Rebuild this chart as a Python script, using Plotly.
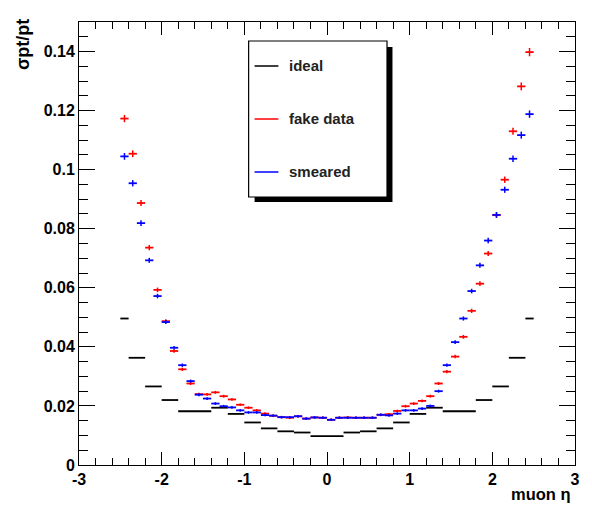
import plotly.graph_objects as go

# pt resolution vs muon pseudorapidity, 50 bins of width 0.1 over |eta| < 2.5
eta_centers = [round(-2.45 + 0.1 * i, 2) for i in range(50)]
bin_half_width = 0.05

fake_data = [
    0.1173, 0.1054, 0.0887, 0.0736, 0.0593, 0.0487, 0.0386, 0.0324, 0.0276, 0.0240,
    0.0239, 0.0246, 0.0233, 0.0222, 0.0204, 0.0194, 0.0185, 0.0174, 0.0167, 0.0162,
    0.0160, 0.0165, 0.0157, 0.0161, 0.0160, 0.0153, 0.0160, 0.0161, 0.0160, 0.0160,
    0.0160, 0.0170, 0.0172, 0.0183, 0.0199, 0.0208, 0.0217, 0.0233, 0.0276, 0.0316,
    0.0367, 0.0434, 0.0522, 0.0614, 0.0716, 0.0846, 0.0966, 0.1130, 0.1282, 0.1398,
]
smeared = [
    0.1045, 0.0954, 0.0819, 0.0693, 0.0572, 0.0484, 0.0397, 0.0338, 0.0284, 0.0238,
    0.0225, 0.0208, 0.0199, 0.0195, 0.0185, 0.0178, 0.0178, 0.0169, 0.0167, 0.0162,
    0.0162, 0.0165, 0.0157, 0.0161, 0.0160, 0.0153, 0.0160, 0.0160, 0.0160, 0.0160,
    0.0160, 0.0170, 0.0168, 0.0174, 0.0185, 0.0185, 0.0191, 0.0200, 0.0250, 0.0338,
    0.0416, 0.0496, 0.0589, 0.0676, 0.0760, 0.0847, 0.0932, 0.1037, 0.1117, 0.1188,
]
# relative statistical uncertainty of the resolution estimates
rel_err = 0.008

# ideal resolution, variable-width bins
ideal_lo = [-2.5, -2.4, -2.2, -2.0, -1.8, -1.4, -1.2, -1.0, -0.8, -0.6, -0.4, -0.2,
            0.2, 0.4, 0.6, 0.8, 1.0, 1.2, 1.4, 1.8, 2.0, 2.2, 2.4]
ideal_hi = [-2.4, -2.2, -2.0, -1.8, -1.4, -1.2, -1.0, -0.8, -0.6, -0.4, -0.2, 0.2,
            0.4, 0.6, 0.8, 1.0, 1.2, 1.4, 1.8, 2.0, 2.2, 2.4, 2.5]
ideal = [0.0496, 0.0363, 0.0266, 0.0220, 0.0182, 0.0194, 0.0173, 0.0144, 0.0124, 0.0114, 0.0110, 0.0098,
         0.0110, 0.0114, 0.0124, 0.0144, 0.0173, 0.0194, 0.0182, 0.0220, 0.0266, 0.0363, 0.0496]

series_names = ["ideal", "fake data", "smeared"]
series_colors = ["black", "red", "blue"]

x_ticks = [-3, -2, -1, 0, 1, 2, 3]
x_tick_text = ["-3", "-2", "-1", "0", "1", "2", "3"]
y_ticks = [0, 0.02, 0.04, 0.06, 0.08, 0.1, 0.12, 0.14]
y_tick_text = ["0", "0.02", "0.04", "0.06", "0.08", "0.1", "0.12", "0.14"]

W, H = 592, 506
ML, MR, MT, MB = 79, 13, 22, 41
PW, PH = W - ML - MR, H - MT - MB


def px(x):
    return (x - ML) / PW


def py(y):
    return (H - MB - y) / PH


fig = go.Figure()

invisible = dict(color="rgba(0,0,0,0)", size=1)

fig.add_trace(go.Scatter(
    x=[(a + b) / 2 for a, b in zip(ideal_lo, ideal_hi)], y=ideal, mode="markers",
    marker=invisible, name=series_names[0], showlegend=False,
    error_x=dict(type="data", array=[(b - a) / 2 for a, b in zip(ideal_lo, ideal_hi)],
                 color=series_colors[0], thickness=1.8, width=0),
))
fig.add_trace(go.Scatter(
    x=eta_centers, y=fake_data, mode="markers", marker=invisible,
    name=series_names[1], showlegend=False,
    error_x=dict(type="constant", value=bin_half_width, color=series_colors[1], thickness=1.8, width=0),
    error_y=dict(type="data", array=[v * rel_err + 0.0003 for v in fake_data],
                 color=series_colors[1], thickness=1.5, width=0),
))
fig.add_trace(go.Scatter(
    x=eta_centers, y=smeared, mode="markers", marker=invisible,
    name=series_names[2], showlegend=False,
    error_x=dict(type="constant", value=bin_half_width, color=series_colors[2], thickness=1.8, width=0),
    error_y=dict(type="data", array=[v * rel_err + 0.0003 for v in smeared],
                 color=series_colors[2], thickness=1.5, width=0),
))

# legend box with drop shadow
shapes = [
    dict(type="rect", xref="paper", yref="paper",
         x0=px(256), x1=px(395), y0=py(202), y1=py(47),
         fillcolor="black", line=dict(width=0), layer="above"),
    dict(type="rect", xref="paper", yref="paper",
         x0=px(250), x1=px(389.5), y0=py(197), y1=py(41),
         fillcolor="white", line=dict(color="black", width=1.2), layer="above"),
]
annotations = []
legend_rows = [66, 119, 172]
for name, color, ry in zip(series_names, series_colors, legend_rows):
    shapes.append(dict(type="line", xref="paper", yref="paper",
                       x0=px(256), x1=px(280), y0=py(ry), y1=py(ry),
                       line=dict(color=color, width=1.5), layer="above"))
    annotations.append(dict(xref="paper", yref="paper", x=px(289), y=py(ry),
                            xanchor="left", yanchor="middle", showarrow=False,
                            text=name, font=dict(family="Liberation Sans", size=15,
                                                 color="#222", weight="bold")))

# axis titles
annotations.append(dict(xref="paper", yref="paper", x=px(577), y=py(483),
                        xanchor="right", yanchor="top", showarrow=False,
                        text="muon η", font=dict(family="Liberation Sans", size=16.5,
                                                 color="black", weight="bold")))
annotations.append(dict(xref="paper", yref="paper", x=px(11), y=py(17),
                        xanchor="left", yanchor="top", showarrow=False, textangle=-90,
                        text="σpt/pt", font=dict(family="Liberation Sans", size=18,
                                                 color="black", weight="bold")))

axis_font = dict(family="Liberation Sans", size=16, color="black", weight="bold")

fig.update_layout(
    width=W, height=H,
    margin=dict(l=ML, r=MR, t=MT, b=MB),
    paper_bgcolor="white", plot_bgcolor="white",
    showlegend=False,
    shapes=shapes, annotations=annotations,
    xaxis=dict(
        range=[-3, 3], tickvals=x_ticks, ticktext=x_tick_text,
        ticks="inside", ticklen=13, tickwidth=1, tickcolor="black",
        showline=True, linecolor="black", linewidth=1, mirror="allticks",
        showgrid=False, zeroline=False, tickfont=axis_font,
        minor=dict(dtick=0.2, ticks="inside", ticklen=7, tickcolor="black", showgrid=False),
    ),
    yaxis=dict(
        range=[0, 0.15], tickvals=y_ticks, ticktext=y_tick_text,
        ticks="inside", ticklen=16, tickwidth=1, tickcolor="black",
        showline=True, linecolor="black", linewidth=1, mirror="allticks",
        showgrid=False, zeroline=False, tickfont=axis_font,
        minor=dict(dtick=0.005, ticks="inside", ticklen=9, tickcolor="black", showgrid=False),
    ),
)

fig.write_html("out.html")
